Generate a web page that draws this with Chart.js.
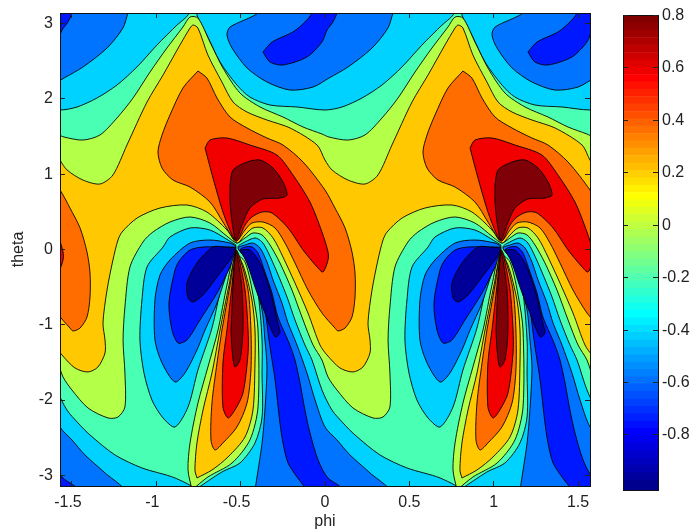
<!DOCTYPE html>
<html>
<head>
<meta charset="utf-8">
<style>
html,body{margin:0;padding:0;background:#fff;}
#wrap{position:relative;width:691px;height:531px;}
canvas{position:absolute;left:0;top:0;}
</style>
<script src="https://cdn.jsdelivr.net/npm/chart.js@4/dist/chart.umd.min.js"></script>
</head>
<body>
<div id="wrap"><canvas id="map" width="691" height="531"></canvas><canvas id="bar" width="691" height="531"></canvas></div>
<script>
const xTicks=[-1.5,-1,-0.5,0,0.5,1,1.5];
const yTicks=[-3,-2,-1,0,1,2,3];
const barTicks=[-0.8,-0.6,-0.4,-0.2,0,0.2,0.4,0.6,0.8];
const barEdges=[-1.010,-0.972,-0.944,-0.916,-0.888,-0.859,-0.831,-0.803,-0.775,-0.747,-0.719,-0.691,-0.663,-0.634,-0.606,-0.578,-0.550,-0.522,-0.494,-0.466,-0.438,-0.409,-0.381,-0.353,-0.325,-0.297,-0.269,-0.241,-0.213,-0.184,-0.156,-0.128,-0.100,-0.072,-0.044,-0.016,0.013,0.041,0.069,0.097,0.125,0.153,0.181,0.209,0.238,0.266,0.294,0.322,0.350,0.378,0.406,0.434,0.463,0.491,0.519,0.547,0.575,0.603,0.631,0.659,0.688,0.716,0.744,0.772,0.802];

// contour outlines, as [phi, theta]
const wholeField=[[-1.7,3.3],[1.7,3.3],[1.7,-3.3],[-1.7,-3.3]];
const cyanUpper=[[-0.759,3.247],[-0.759,3.115],[-0.700,2.849],[-0.622,2.490],[-0.522,2.185],[-0.445,2.025],[-0.326,1.919],[-0.166,1.893],[0,1.853],[0.101,1.893],[0.219,2.012],[0.338,2.185],[0.456,2.424],[0.575,2.716],[0.694,2.982],[0.759,3.115],[0.771,3.247]];
const blueUpper=[[-0.397,3.247],[-0.397,3.141],[-0.563,2.955],[-0.581,2.849],[-0.551,2.676],[-0.462,2.411],[-0.344,2.225],[-0.207,2.118],[-0.071,2.158],[0.024,2.278],[0.136,2.424],[0.279,2.676],[0.373,2.942],[0.403,3.141],[0.421,3.247]];
const mediumUpper=[[-0.368,2.623],[-0.314,2.756],[-0.190,2.889],[-0.119,3.022],[-0.077,3.141],[-0.071,3.247],[0.077,3.247],[0.071,3.141],[0.047,3.022],[0.012,2.915],[-0.018,2.756],[-0.107,2.557],[-0.249,2.451],[-0.326,2.490]];
const cyanLower=[[-0.771,-3.194],[-0.611,-2.955],[-0.504,-2.836],[-0.415,-2.570],[-0.373,-2.225],[-0.373,-1.640],[-0.373,-1.202],[-0.403,-0.498],[-0.462,-0.139],[-0.516,0.033],[-0.474,0.100],[-0.415,0.153],[-0.373,0.100],[-0.338,-0.033],[-0.285,-0.299],[-0.225,-0.631],[-0.178,-0.936],[-0.119,-1.268],[-0.077,-1.468],[-0.018,-1.866],[0.041,-2.132],[0.107,-2.304],[0.178,-2.464],[0.326,-2.729],[0.486,-2.902],[0.682,-3.035],[0.800,-3.194]];
const blueLower=[[-0.415,-3.194],[-0.403,-3.022],[-0.373,-2.570],[-0.356,-2.132],[-0.344,-1.561],[-0.356,-1.202],[-0.373,-0.804],[-0.415,-0.472],[-0.474,-0.113],[-0.516,0.020],[-0.474,0.060],[-0.427,0.086],[-0.385,0.020],[-0.344,-0.166],[-0.308,-0.405],[-0.255,-0.711],[-0.219,-0.976],[-0.166,-1.268],[-0.107,-1.640],[-0.059,-1.999],[0,-2.358],[0.071,-2.530],[0.148,-2.729],[0.267,-2.968],[0.373,-3.194]];
const mediumLower=[[-0.113,-3.194],[-0.130,-3.128],[-0.166,-3.022],[-0.219,-2.836],[-0.249,-2.570],[-0.267,-2.304],[-0.296,-1.733],[-0.314,-1.468],[-0.332,-1.202],[-0.356,-0.804],[-0.397,-0.472],[-0.456,-0.166],[-0.504,-0.007],[-0.474,0.033],[-0.433,0.033],[-0.397,-0.046],[-0.356,-0.299],[-0.314,-0.578],[-0.279,-0.897],[-0.213,-1.242],[-0.178,-1.468],[-0.148,-1.773],[-0.119,-2.132],[-0.089,-2.437],[-0.041,-2.796],[0.012,-3.022],[0.077,-3.128],[0.119,-3.194]];
const navyRight=[[-0.504,-0.007],[-0.445,-0.007],[-0.385,-0.179],[-0.326,-0.538],[-0.279,-0.976],[-0.267,-1.109],[-0.296,-1.162],[-0.356,-0.843],[-0.415,-0.498],[-0.462,-0.179]];
const limeTop=[[-1.547,1.494],[-1.435,1.454],[-1.334,1.521],[-1.233,1.747],[-1.138,2.012],[-1.037,2.358],[-0.937,2.676],[-0.842,2.955],[-0.800,3.088],[-0.753,3.075],[-0.682,2.756],[-0.605,2.411],[-0.504,2.079],[-0.385,1.893],[-0.249,1.760],[-0.130,1.627],[-0.018,1.534]];
const limeBottom=[[-1.553,-1.693],[-1.500,-1.866],[-1.405,-2.105],[-1.286,-2.238],[-1.227,-2.225],[-1.186,-2.092],[-1.186,-1.640],[-1.197,-1.202],[-1.186,-0.764],[-1.156,-0.232],[-1.079,0.100],[-1.020,0.232],[-0.919,0.365],[-0.800,0.432],[-0.682,0.352],[-0.575,0.166],[-0.522,0.086],[-0.474,0.153],[-0.427,0.219],[-0.373,0.193],[-0.326,0.060],[-0.267,-0.179],[-0.196,-0.538],[-0.130,-0.936],[-0.071,-1.268],[-0.018,-1.468]];
const yellowTop=[[-1.571,1.189],[-1.529,1.056],[-1.435,0.923],[-1.334,0.870],[-1.257,0.990],[-1.174,1.388],[-1.055,1.959],[-0.960,2.318],[-0.860,2.716],[-0.800,2.942],[-0.782,2.982],[-0.753,2.942],[-0.694,2.583],[-0.611,2.225],[-0.545,1.959],[-0.462,1.826],[-0.344,1.720],[-0.207,1.614],[-0.047,1.388]];
const yellowBottom=[[-1.559,-1.401],[-1.482,-1.574],[-1.405,-1.627],[-1.346,-1.561],[-1.304,-1.375],[-1.304,-1.202],[-1.316,-0.976],[-1.292,-0.538],[-1.257,-0.139],[-1.227,0.126],[-1.203,0.232],[-1.114,0.418],[-0.978,0.551],[-0.818,0.591],[-0.700,0.498],[-0.581,0.259],[-0.522,0.086],[-0.474,0.193],[-0.427,0.286],[-0.368,0.286],[-0.308,0.153],[-0.249,-0.100],[-0.178,-0.445],[-0.101,-0.843],[-0.030,-1.268]];
const orangeBlob=[[-0.753,2.371],[-0.700,2.278],[-0.640,2.012],[-0.563,1.760],[-0.462,1.614],[-0.344,1.481],[-0.249,1.388],[-0.130,1.162],[0,0.790],[0.059,0.551],[0.119,0.286],[0.160,-0.033],[0.178,-0.312],[0.178,-0.631],[0.160,-0.897],[0.119,-1.043],[0.077,-1.082],[0.059,-1.043],[-0.018,-0.843],[-0.101,-0.538],[-0.178,-0.179],[-0.237,0.086],[-0.296,0.286],[-0.368,0.365],[-0.433,0.352],[-0.474,0.259],[-0.522,0.113],[-0.545,0.153],[-0.605,0.365],[-0.682,0.631],[-0.800,0.830],[-0.901,0.923],[-0.966,1.082],[-0.990,1.295],[-0.966,1.521],[-0.919,1.786],[-0.842,2.145]];
const redBlob=[[-0.711,1.348],[-0.682,1.454],[-0.581,1.481],[-0.445,1.388],[-0.285,1.255],[-0.190,0.990],[-0.089,0.631],[-0.018,0.232],[0.018,-0.033],[0.018,-0.139],[-0.012,-0.299],[-0.047,-0.232],[-0.130,-0.007],[-0.219,0.286],[-0.314,0.485],[-0.373,0.498],[-0.433,0.432],[-0.474,0.325],[-0.522,0.113],[-0.551,0.193],[-0.605,0.498],[-0.664,0.950]];
const darkBlob=[[-0.563,0.857],[-0.545,1.056],[-0.462,1.162],[-0.385,1.189],[-0.308,1.082],[-0.249,0.897],[-0.225,0.724],[-0.267,0.684],[-0.368,0.671],[-0.445,0.551],[-0.492,0.325],[-0.528,0.126],[-0.551,0.365],[-0.563,0.631]];
const cyanTongue=[[-0.528,0.060],[-0.575,0.126],[-0.682,0.259],[-0.800,0.286],[-0.919,0.166],[-0.960,0.033],[-1.055,-0.232],[-1.085,-0.671],[-1.097,-1.202],[-1.073,-1.640],[-1.026,-1.999],[-0.960,-2.238],[-0.889,-2.358],[-0.812,-2.092],[-0.753,-1.600],[-0.670,-1.043],[-0.605,-0.405],[-0.551,-0.100]];
const blueTongue=[[-0.528,0.046],[-0.563,0.086],[-0.682,0.126],[-0.800,0.086],[-0.919,-0.139],[-0.978,-0.339],[-1.008,-0.671],[-1.008,-1.202],[-0.966,-1.507],[-0.889,-1.760],[-0.830,-1.640],[-0.759,-1.335],[-0.711,-1.069],[-0.640,-0.711],[-0.581,-0.312],[-0.539,-0.100]];
const mediumTongue=[[-0.528,0.033],[-0.593,0.033],[-0.723,0.033],[-0.800,-0.007],[-0.860,-0.139],[-0.889,-0.272],[-0.925,-0.711],[-0.907,-1.069],[-0.871,-1.242],[-0.818,-1.202],[-0.741,-0.936],[-0.640,-0.578],[-0.563,-0.232],[-0.534,-0.073]];
const navyTongue=[[-0.528,0.020],[-0.593,0.033],[-0.664,0.033],[-0.759,-0.179],[-0.818,-0.445],[-0.812,-0.644],[-0.782,-0.697],[-0.723,-0.604],[-0.640,-0.365],[-0.551,-0.100]];
const limeSpindle=[[-0.788,-3.194],[-0.812,-2.929],[-0.800,-2.570],[-0.753,-2.039],[-0.694,-1.561],[-0.634,-1.069],[-0.581,-0.472],[-0.534,-0.073],[-0.474,-0.166],[-0.421,-0.671],[-0.397,-1.069],[-0.397,-2.092],[-0.445,-2.530],[-0.551,-2.836],[-0.694,-3.022]];
const yellowSpindle=[[-0.759,-3.035],[-0.771,-2.929],[-0.759,-2.570],[-0.723,-2.132],[-0.670,-1.640],[-0.622,-1.069],[-0.569,-0.472],[-0.528,-0.073],[-0.486,-0.206],[-0.433,-0.671],[-0.415,-1.069],[-0.415,-1.507],[-0.427,-2.132],[-0.474,-2.490],[-0.575,-2.756],[-0.670,-2.929]];
const orangeSpindle=[[-0.611,-1.069],[-0.640,-1.507],[-0.670,-2.039],[-0.676,-2.530],[-0.652,-2.663],[-0.605,-2.570],[-0.522,-2.358],[-0.462,-2.039],[-0.439,-1.600],[-0.439,-1.069],[-0.456,-0.538],[-0.504,-0.113],[-0.528,-0.007],[-0.563,-0.472]];
const redSpindle=[[-0.581,-1.069],[-0.605,-1.507],[-0.605,-2.092],[-0.575,-2.238],[-0.534,-2.132],[-0.486,-1.906],[-0.456,-1.375],[-0.456,-1.069],[-0.474,-0.538],[-0.510,-0.113],[-0.528,-0.007],[-0.551,-0.472]];
const darkSpindle=[[-0.557,-1.069],[-0.551,-1.335],[-0.534,-1.561],[-0.504,-1.468],[-0.486,-1.069],[-0.492,-0.538],[-0.516,-0.139],[-0.528,-0.033],[-0.545,-0.472]];

const PERIOD=Math.PI/2;
const C={navy:'#000098',medium:'#0018ff',blue:'#0074ff',cyan:'#00d2ff',aqua:'#48ffb4',lime:'#b4ff48',yellow:'#ffc800',orange:'#ff6c00',red:'#f20000',dark:'#800008'};
const FONT={family:"'Liberation Sans', Arial, sans-serif",size:16};
const INK='#222';
const LINE='rgba(0,0,0,0.88)';

function toPoints(list,k){return list.map(p=>({x:p[0]+k*PERIOD,y:p[1]}));}
function makeDs(points,color){
  return {type:'line',data:points.concat([points[0]]),regionColor:color,borderColor:LINE,borderWidth:1,pointRadius:0,fill:false,tension:0.28,clip:0,xAxisID:'x',yAxisID:'y'};
}
const sets=[];
function closed(list,color){[-1,0,1].forEach(k=>sets.push(makeDs(toPoints(list,k),color)));}
function strip(top,bottom,color){
  let pts=[];
  [-2,-1,0,1,2].forEach(k=>{pts=pts.concat(toPoints(top,k));});
  [2,1,0,-1,-2].forEach(k=>{pts=pts.concat(toPoints(bottom,k).reverse());});
  sets.push(makeDs(pts,color));
}
sets.push(makeDs(toPoints(wholeField,0),C.aqua));
closed(cyanUpper,C.cyan);closed(blueUpper,C.blue);closed(mediumUpper,C.medium);
closed(cyanLower,C.cyan);closed(blueLower,C.blue);closed(mediumLower,C.medium);closed(navyRight,C.navy);
strip(limeTop,limeBottom,C.lime);strip(yellowTop,yellowBottom,C.yellow);
closed(orangeBlob,C.orange);closed(redBlob,C.red);closed(darkBlob,C.dark);
closed(cyanTongue,C.cyan);closed(blueTongue,C.blue);closed(mediumTongue,C.medium);closed(navyTongue,C.navy);
closed(limeSpindle,C.lime);closed(yellowSpindle,C.yellow);closed(orangeSpindle,C.orange);closed(redSpindle,C.red);closed(darkSpindle,C.dark);
sets.forEach((d,i)=>{d.order=sets.length-i;});

const regionFill={id:'regionFill',
  beforeDraw(chart){
    chart.scales.x.getLabelItems().forEach(it=>{
      if(String(it.label).charAt(0)==='-')it.options.translation[0]-=4;
    });
  },
  beforeDatasetDraw(chart,args){
    const ds=chart.data.datasets[args.index];
    if(!ds.regionColor)return;
    const a=chart.chartArea,ctx=chart.ctx,line=args.meta.dataset;
    line.updateControlPoints(a,'x');
    ctx.save();
    ctx.beginPath();ctx.rect(a.left,a.top,a.right-a.left,a.bottom-a.top);ctx.clip();
    ctx.beginPath();line.path(ctx);ctx.closePath();
    ctx.fillStyle=ds.regionColor;ctx.fill();
    ctx.restore();
  }
};
function tickList(list){return s=>{s.ticks=list.map(v=>({value:v}));};}
function flat(s){s.paddingTop=0;s.paddingBottom=0;s.paddingLeft=0;s.paddingRight=0;}
function frame(position,list,min,max,extra){
  const o={type:'linear',position,min,max,afterBuildTicks:tickList(list),
    grid:{drawOnChartArea:false,drawTicks:true,tickLength:-5,color:INK,lineWidth:1,z:1},
    border:{display:true,color:'#111',width:1,z:1},
    ticks:{display:false,z:1,autoSkip:false,maxRotation:0,color:INK,font:FONT,callback:v=>String(v)},
    afterFit:s=>{flat(s);if(position==='top'||position==='bottom')s.height=0;else s.width=0;}};
  return Object.assign(o,extra||{});
}
const PHI=Math.PI/2,TH=Math.PI;
new Chart(document.getElementById('map'),{
  type:'line',
  data:{datasets:sets},
  plugins:[regionFill],
  options:{responsive:false,animation:false,events:[],
    layout:{padding:{left:0,top:13,right:101,bottom:0}},
    plugins:{legend:{display:false},tooltip:{enabled:false}},
    elements:{line:{capBezierPoints:false}},
    scales:{
      x:(()=>{const f=frame('bottom',xTicks,-PHI,PHI);f.ticks.display=true;f.ticks.padding=12;f.afterFit=s=>{flat(s);s.height=45;};
        f.title={display:true,text:'phi',color:INK,font:FONT,padding:{top:0,bottom:0}};return f;})(),
      y:(()=>{const f=frame('left',yTicks,-TH,TH);f.ticks.display=true;f.ticks.padding=12;f.afterFit=s=>{flat(s);s.width=60;};
        f.title={display:true,text:'theta',color:INK,font:FONT,padding:{top:9,bottom:0}};return f;})(),
      xTop:frame('top',xTicks,-PHI,PHI),
      yRight:frame('right',yTicks,-TH,TH)
    }
  }
});

function jet(i){
  const n=i+1;
  const r=n<=24?0:n<=40?(n-24)/16:n<=56?1:1-(n-56)/16;
  const g=n<=8?0:n<=24?(n-8)/16:n<=40?1:n<=56?1-(n-40)/16:0;
  const b=n<=8?0.5+n/16:n<=24?1:n<=40?1-(n-24)/16:0;
  return 'rgb('+Math.round(r*255)+','+Math.round(g*255)+','+Math.round(b*255)+')';
}
const barSets=barEdges.slice(0,-1).map((lo,i)=>({type:'bar',label:'',data:[[lo,barEdges[i+1]]],backgroundColor:jet(i),borderWidth:0,barPercentage:1,categoryPercentage:1,grouped:false,yAxisID:'yBar',xAxisID:'xBar'}));
const BAR_MIN=-1.01,BAR_MAX=0.802;
new Chart(document.getElementById('bar'),{
  type:'bar',
  data:{labels:['level'],datasets:barSets},
  options:{responsive:false,animation:false,events:[],
    layout:{padding:{left:623,top:15,right:0,bottom:41}},
    plugins:{legend:{display:false},tooltip:{enabled:false}},
    scales:{
      xBar:{type:'category',position:'bottom',grid:{display:false,z:1},border:{display:true,color:'#111',z:1},ticks:{display:false},afterFit:s=>{flat(s);s.height=0;}},
      xBarTop:{type:'category',position:'top',grid:{display:false,z:1},border:{display:true,color:'#111',z:1},ticks:{display:false},afterFit:s=>{flat(s);s.height=0;}},
      yBar:(()=>{const f=frame('right',barTicks,BAR_MIN,BAR_MAX);f.ticks.display=true;f.ticks.padding=9;f.afterFit=s=>{flat(s);s.width=33;};return f;})(),
      yBarLeft:frame('left',barTicks,BAR_MIN,BAR_MAX)
    }
  }
});
</script>
</body>
</html>
